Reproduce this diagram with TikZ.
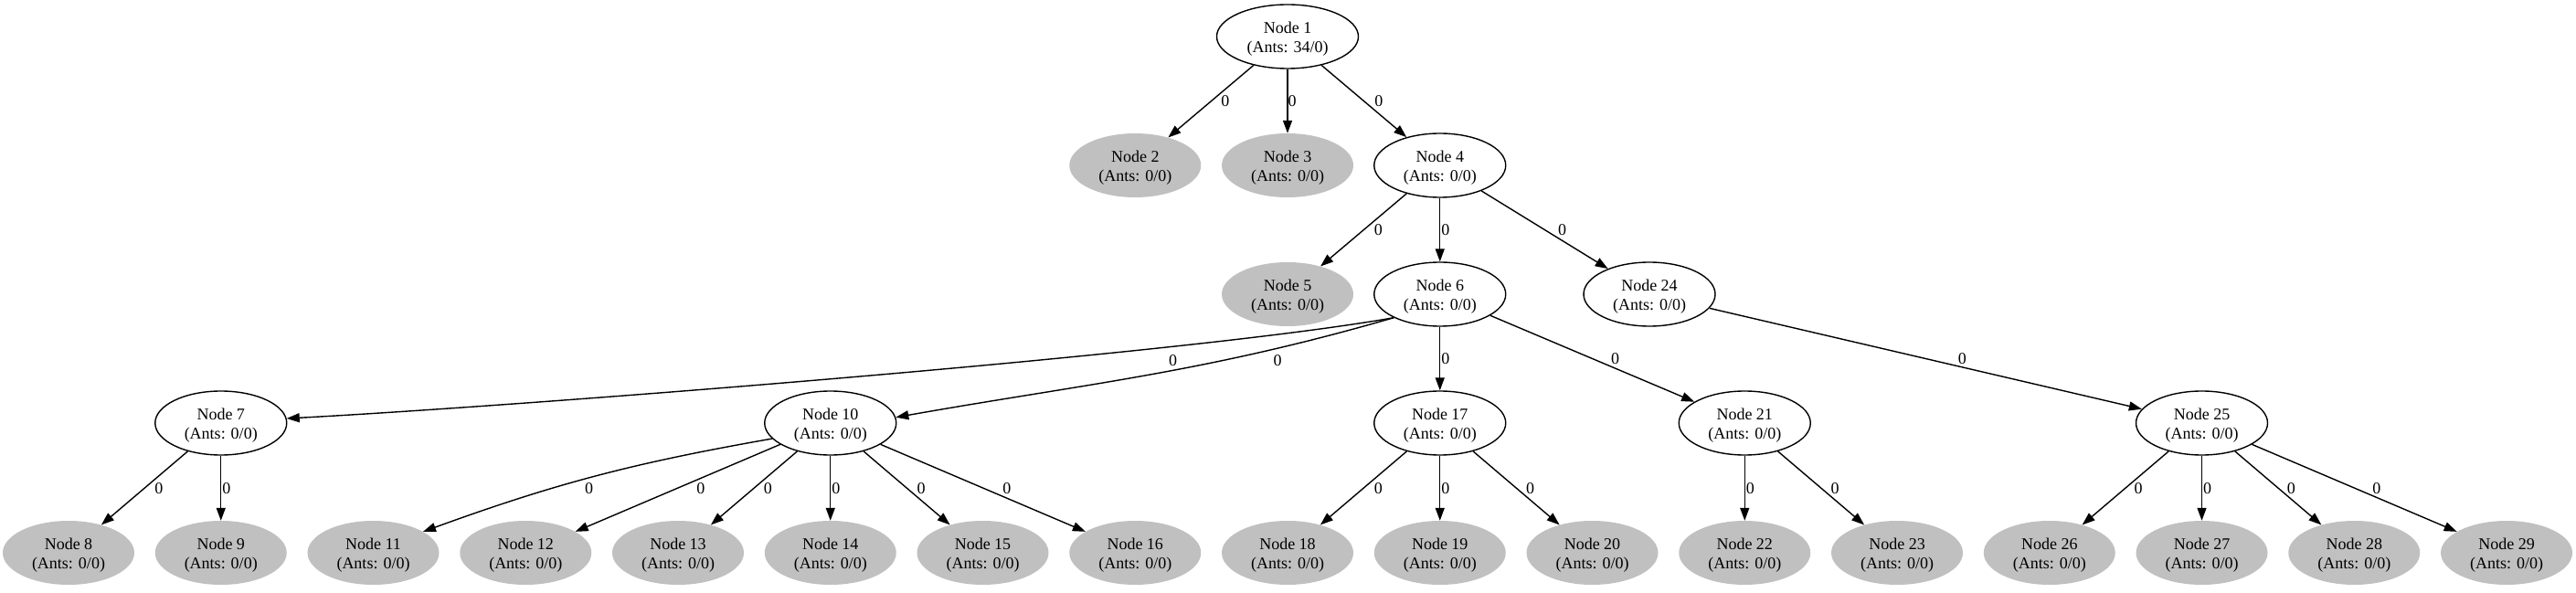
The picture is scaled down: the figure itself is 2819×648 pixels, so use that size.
\documentclass[tikz,border=0pt]{standalone}
\usepackage{fontspec}
\setmainfont{Liberation Serif}
\usetikzlibrary{arrows.meta,shapes.geometric}
\definecolor{leafgray}{HTML}{C0C0C0}
\newcommand{\antlabel}[2]{\rule{0pt}{18pt}Node #1\\(Ants: #2)}

\begin{document}
\begin{tikzpicture}[x=1pt,y=1pt,
  every node/.style={font=\fontsize{18}{21.5}\selectfont},
  ant/.style={ellipse,draw,line width=1.4pt,minimum width=144pt,minimum height=70pt,inner sep=0pt,align=center},
  leaf/.style={ellipse,fill=leafgray,minimum width=144pt,minimum height=70pt,inner sep=0pt,align=center},
  edge/.style={line width=1.4pt,-{Triangle[length=14pt,width=10pt]}},
  lbl/.style={midway,anchor=west,inner sep=0pt,xshift=#1},
  lbl/.default=1pt,
  clbl/.style={inner sep=0pt}]
\useasboundingbox (0,0) rectangle (2819,648);
%rank 0
\node[ant,minimum width=155pt] (n1) at (1409,608) {\antlabel{1}{34/0}};
%rank 1
\node[leaf] (n2) at (1242.25,467) {\antlabel{2}{0/0}};
\node[leaf] (n3) at (1409,467) {\antlabel{3}{0/0}};
\node[ant] (n4) at (1575.75,467) {\antlabel{4}{0/0}};
%rank 2
\node[leaf] (n5) at (1409,326) {\antlabel{5}{0/0}};
\node[ant] (n6) at (1575.75,326) {\antlabel{6}{0/0}};
\node[ant] (n24) at (1805,326) {\antlabel{24}{0/0}};
%rank 3
\node[ant] (n7) at (241.75,185) {\antlabel{7}{0/0}};
\node[ant] (n10) at (908.75,185) {\antlabel{10}{0/0}};
\node[ant] (n17) at (1575.75,185) {\antlabel{17}{0/0}};
\node[ant] (n21) at (1909.25,185) {\antlabel{21}{0/0}};
\node[ant] (n25) at (2409.5,185) {\antlabel{25}{0/0}};
%rank 4
\node[leaf] (n8) at (75,43) {\antlabel{8}{0/0}};
\node[leaf] (n9) at (241.75,43) {\antlabel{9}{0/0}};
\node[leaf] (n11) at (408.5,43) {\antlabel{11}{0/0}};
\node[leaf] (n12) at (575.25,43) {\antlabel{12}{0/0}};
\node[leaf] (n13) at (742,43) {\antlabel{13}{0/0}};
\node[leaf] (n14) at (908.75,43) {\antlabel{14}{0/0}};
\node[leaf] (n15) at (1075.5,43) {\antlabel{15}{0/0}};
\node[leaf] (n16) at (1242.25,43) {\antlabel{16}{0/0}};
\node[leaf] (n18) at (1409,43) {\antlabel{18}{0/0}};
\node[leaf] (n19) at (1575.75,43) {\antlabel{19}{0/0}};
\node[leaf] (n20) at (1742.5,43) {\antlabel{20}{0/0}};
\node[leaf] (n22) at (1909.25,43) {\antlabel{22}{0/0}};
\node[leaf] (n23) at (2076,43) {\antlabel{23}{0/0}};
\node[leaf] (n26) at (2242.75,43) {\antlabel{26}{0/0}};
\node[leaf] (n27) at (2409.5,43) {\antlabel{27}{0/0}};
\node[leaf] (n28) at (2576.25,43) {\antlabel{28}{0/0}};
\node[leaf] (n29) at (2743,43) {\antlabel{29}{0/0}};
%edges
\draw[edge] (n1) -- node[lbl=10.5pt] {0} (n2);
\draw[edge] (n1) -- node[lbl=0pt] {0} (n3);
\draw[edge] (n1) -- node[lbl=11pt] {0} (n4);
\draw[edge] (n4) -- node[lbl=11pt] {0} (n5);
\draw[edge] (n4) -- node[lbl] {0} (n6);
\draw[edge] (n4) -- node[lbl=14pt] {0} (n24);
\draw[edge] (n6.207) .. controls (1292,259) and (551,202.5)
  .. node[clbl,pos=0.24,below=9pt] {0} (n7.4);
\draw[edge] (n6.207) .. controls (1316.4,240) and (1193.7,228.9)
  .. node[clbl,pos=0.22,below=7pt] {0} (n10.5);
\draw[edge] (n6) -- node[lbl] {0} (n17);
\draw[edge] (n6) -- node[lbl=20pt] {0} (n21);
\draw[edge] (n24) -- node[lbl=35pt] {0} (n25);
%
\draw[edge] (n7) -- node[lbl=10.5pt] {0} (n8);
\draw[edge] (n7) -- node[lbl] {0} (n9);
\draw[edge] (n10.195) .. controls (693,141.2) and (608.4,119)
  .. node[clbl,pos=0.52,below=5pt] {0} (n11.23);
\draw[edge] (n10) -- node[lbl=20pt] {0} (n12);
\draw[edge] (n10) -- node[lbl=10pt] {0} (n13);
\draw[edge] (n10) -- node[lbl] {0} (n14);
\draw[edge] (n10) -- node[lbl=10.5pt] {0} (n15);
\draw[edge] (n10) -- node[lbl=21pt] {0} (n16);
\draw[edge] (n17) -- node[lbl=11pt] {0} (n18);
\draw[edge] (n17) -- node[lbl] {0} (n19);
\draw[edge] (n17) -- node[lbl=10pt] {0} (n20);
\draw[edge] (n21) -- node[lbl] {0} (n22);
\draw[edge] (n21) -- node[lbl=10pt] {0} (n23);
\draw[edge] (n25) -- node[lbl=9pt] {0} (n26);
\draw[edge] (n25) -- node[lbl] {0} (n27);
\draw[edge] (n25) -- node[lbl=9pt] {0} (n28);
\draw[edge] (n25) -- node[lbl=19pt] {0} (n29);
\end{tikzpicture}
\end{document}
